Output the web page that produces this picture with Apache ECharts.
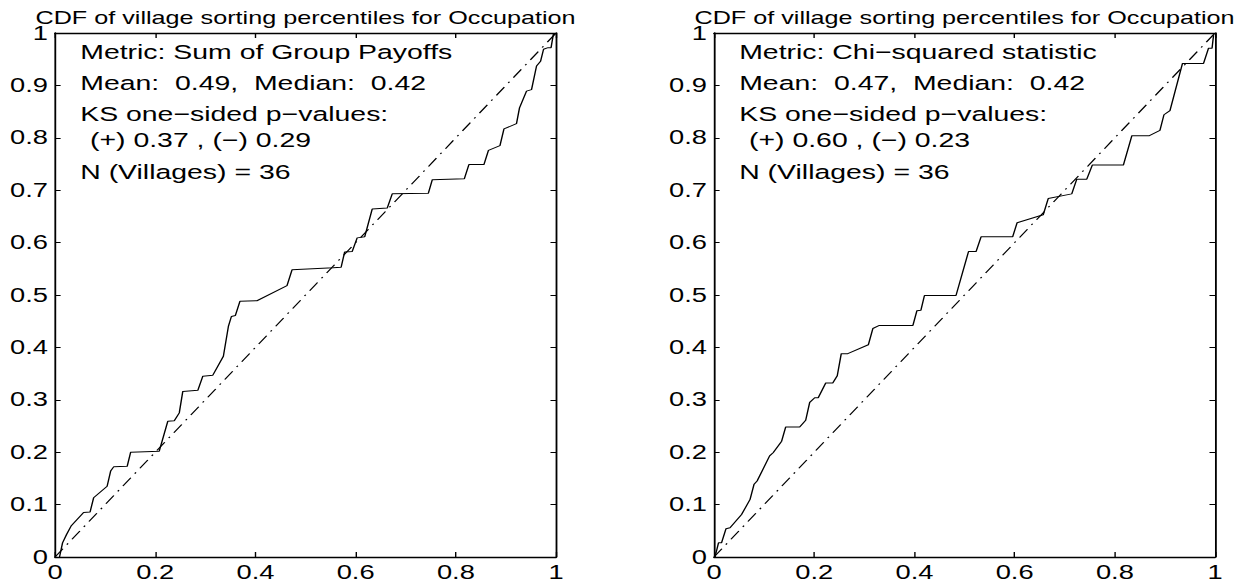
<!DOCTYPE html>
<html>
<head>
<meta charset="utf-8">
<script src="https://cdn.jsdelivr.net/npm/echarts@6/dist/echarts.min.js"></script>
<style>
html, body { margin: 0; padding: 0; background: #fff; overflow: hidden; }
/* the source figure is stretched sideways, so the whole chart is drawn narrow and widened */
#chart { width: 896px; height: 582px; transform: scaleX(1.4); transform-origin: 0 0; }
</style>
</head>
<body>
<div id="chart"></div>
<script>
var titleText = 'CDF of village sorting percentiles for Occupation';

var leftNotes = [
  'Metric: Sum of Group Payoffs',
  'Mean:  0.49,  Median:  0.42',
  'KS one\u2212sided p\u2212values:',
  '(+) 0.37 , (\u2212) 0.29',
  'N (Villages) = 36'
];
var rightNotes = [
  'Metric: Chi\u2212squared statistic',
  'Mean:  0.47,  Median:  0.42',
  'KS one\u2212sided p\u2212values:',
  '(+) 0.60 , (\u2212) 0.23',
  'N (Villages) = 36'
];

// CDF of sorting percentiles, Sum of Group Payoffs
var leftX = [0.009, 0.015, 0.023, 0.032, 0.057, 0.070, 0.077, 0.104, 0.111, 0.117,
  0.144, 0.151, 0.208, 0.225, 0.238, 0.248, 0.255, 0.285, 0.295, 0.315,
  0.336, 0.346, 0.352, 0.360, 0.369, 0.403, 0.463, 0.473, 0.555, 0.571,
  0.578, 0.593, 0.603, 0.618, 0.633, 0.663, 0.673, 0.745, 0.753, 0.817,
  0.826, 0.856, 0.865, 0.888, 0.896, 0.921, 0.927, 0.941, 0.951, 0.961,
  0.969, 0.975, 0.984, 0.990, 0.995];
var leftY = [0, 0.027, 0.043, 0.059, 0.085, 0.086, 0.113, 0.135, 0.164, 0.172,
  0.173, 0.200, 0.202, 0.259, 0.260, 0.275, 0.316, 0.318, 0.345, 0.347,
  0.383, 0.440, 0.459, 0.461, 0.488, 0.489, 0.518, 0.548, 0.552, 0.553,
  0.582, 0.583, 0.609, 0.611, 0.664, 0.666, 0.693, 0.694, 0.720, 0.722,
  0.749, 0.749, 0.776, 0.785, 0.817, 0.827, 0.857, 0.889, 0.892, 0.937,
  0.946, 0.969, 0.972, 0.972, 1.0];

// CDF of sorting percentiles, Chi-squared statistic
var rightX = [0.002, 0.009, 0.015, 0.024, 0.032, 0.055, 0.072, 0.080, 0.086, 0.111,
  0.118, 0.135, 0.143, 0.171, 0.183, 0.191, 0.201, 0.208, 0.223, 0.237,
  0.246, 0.254, 0.267, 0.308, 0.317, 0.330, 0.397, 0.405, 0.413, 0.420,
  0.483, 0.508, 0.523, 0.533, 0.596, 0.605, 0.657, 0.667, 0.714, 0.724,
  0.744, 0.755, 0.817, 0.834, 0.869, 0.890, 0.898, 0.910, 0.935, 0.977,
  0.987, 0.994, 0.997];
var rightY = [0, 0.027, 0.027, 0.054, 0.056, 0.081, 0.110, 0.139, 0.145, 0.193,
  0.199, 0.221, 0.248, 0.248, 0.261, 0.295, 0.304, 0.304, 0.332, 0.332,
  0.346, 0.388, 0.388, 0.405, 0.436, 0.442, 0.442, 0.470, 0.471, 0.499,
  0.499, 0.583, 0.583, 0.611, 0.611, 0.638, 0.653, 0.684, 0.693, 0.721,
  0.721, 0.748, 0.748, 0.804, 0.804, 0.814, 0.844, 0.852, 0.942, 0.942,
  0.971, 0.971, 0.996];

// 45 degree reference line
var diagX = [0, 1];
var diagY = [0, 1];

function pairs(xs, ys) {
  var out = [];
  for (var i = 0; i < xs.length; i++) {
    out.push([xs[i], ys[i]]);
  }
  return out;
}

var font = 'Liberation Sans, Arial, Helvetica, sans-serif';
var grids = [
  { left: 39.3, top: 33, width: 357.9, height: 524.7 },
  { left: 510, top: 33, width: 357.9, height: 524.7 }
];

var xAxes = [];
var yAxes = [];
grids.forEach(function (g, gi) {
  var base = {
    type: 'value', min: 0, max: 1, gridIndex: gi,
    axisLine: { show: true, onZero: false, lineStyle: { color: '#000', width: 1.3 } },
    splitLine: { show: false }
  };
  xAxes.push(Object.assign({}, base, {
    position: 'bottom', interval: 0.2,
    axisTick: { inside: true, length: 5, lineStyle: { color: '#000' } },
    axisLabel: { color: '#000', fontSize: 19.5, fontFamily: font, margin: 5 }
  }));
  xAxes.push(Object.assign({}, base, {
    position: 'top', interval: 0.2,
    axisTick: { inside: true, length: 5, lineStyle: { color: '#000' } },
    axisLabel: { show: false }
  }));
  yAxes.push(Object.assign({}, base, {
    position: 'left', interval: 0.1,
    axisTick: { inside: true, length: 4, lineStyle: { color: '#000' } },
    axisLabel: { color: '#000', fontSize: 19.5, lineHeight: 14, fontFamily: font, margin: 5 }
  }));
  yAxes.push(Object.assign({}, base, {
    position: 'right', interval: 0.1,
    axisTick: { inside: true, length: 4, lineStyle: { color: '#000' } },
    axisLabel: { show: false }
  }));
});

function cdfSeries(gi, xs, ys) {
  return {
    type: 'line', xAxisIndex: gi * 2, yAxisIndex: gi * 2,
    data: pairs(xs, ys), showSymbol: false, silent: true,
    lineStyle: { color: '#000', width: 1 }
  };
}
function diagSeries(gi) {
  return {
    type: 'line', xAxisIndex: gi * 2, yAxisIndex: gi * 2,
    data: pairs(diagX, diagY), showSymbol: false, silent: true,
    lineStyle: { color: '#000', width: 1, type: [10, 5, 1.5, 5] }
  };
}

var graphic = [];
var noteY = [51.7, 83.3, 114.5, 140, 172.5];
[leftNotes, rightNotes].forEach(function (notes, gi) {
  var g = grids[gi];
  graphic.push({
    type: 'text', x: g.left + g.width / 2, y: 17.5,
    style: { text: titleText, fontSize: 18, lineHeight: 14, fontFamily: font, fill: '#000',
      align: 'center', verticalAlign: 'middle' }
  });
  notes.forEach(function (t, i) {
    graphic.push({
      type: 'text', x: g.left + (i === 3 ? 25 : 18), y: noteY[i],
      style: { text: t, fontSize: 20.3, fontFamily: font, fill: '#000',
        align: 'left', verticalAlign: 'middle' }
    });
  });
});

var myChart = echarts.init(document.getElementById('chart'), null, { renderer: 'svg' });
myChart.setOption({
  backgroundColor: '#fff',
  animation: false,
  grid: grids,
  xAxis: xAxes,
  yAxis: yAxes,
  graphic: graphic,
  series: [
    diagSeries(0),
    cdfSeries(0, leftX, leftY),
    diagSeries(1),
    cdfSeries(1, rightX, rightY)
  ]
});
</script>
</body>
</html>
